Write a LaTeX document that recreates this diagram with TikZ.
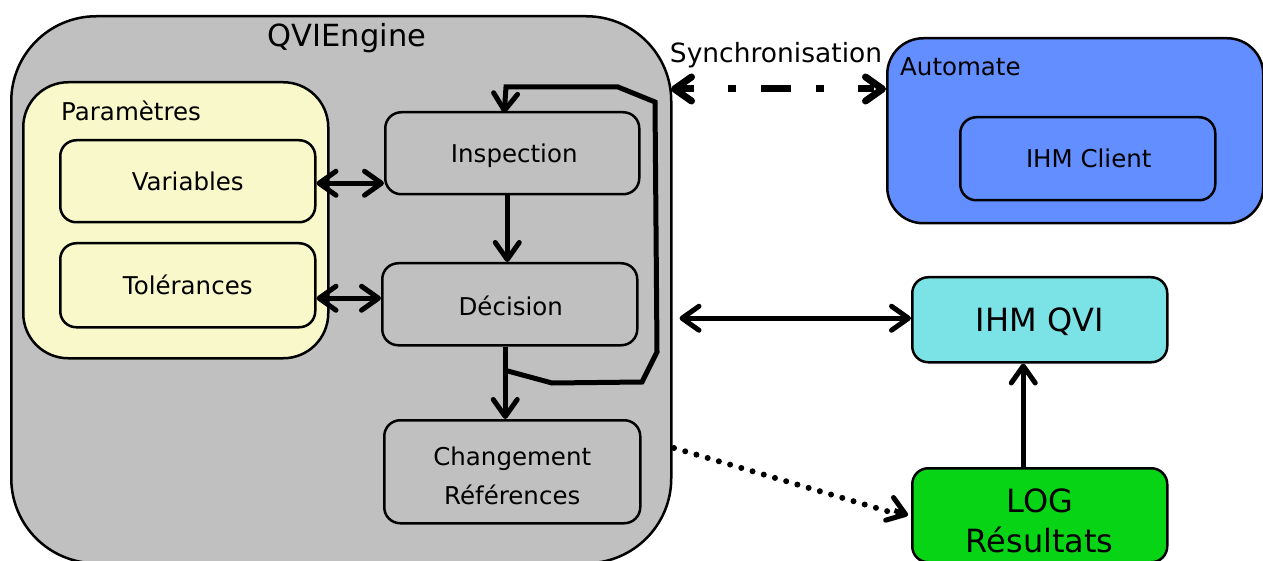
\documentclass[tikz,border=0pt]{standalone}
\usepackage{fontspec}
\setmainfont{DejaVu Sans}
\usetikzlibrary{arrows.meta,calc}

\definecolor{enggray}{HTML}{C0C0C0}
\definecolor{paramyellow}{HTML}{F8F8CA}
\definecolor{autoblue}{HTML}{628EFF}
\definecolor{ihmcyan}{HTML}{7BE2E6}
\definecolor{loggreen}{HTML}{06D414}

\begin{document}
\begin{tikzpicture}[x=1pt, y=-1pt,
  box/.style={draw=black, line width=2.5pt, anchor=north west, inner sep=0pt,
    rounded corners=16pt},
  lbl/.style={font=\fontsize{24.5}{39}\selectfont, align=center, inner sep=0pt},
  biglbl/.style={font=\fontsize{32}{40}\selectfont, align=center, inner sep=0pt},
  tip/.tip={Straight Barb[length=17pt, width=24pt, round]},
  arr/.style={line width=5pt, -tip},
  dbl/.style={line width=5pt, tip-tip},
  loopline/.style={line width=5pt, line join=miter, -tip},
  syncline/.style={line width=7pt, tip-tip,
    dash pattern=on 16pt off 34pt on 8pt off 25pt on 30pt off 25pt on 8pt off 34pt},
  dotline/.style={line width=6pt, line cap=round, dash pattern=on 0pt off 11.7pt},
]
\useasboundingbox (0,0) rectangle (1263,561);

% QVIEngine container
\node[box, fill=enggray, rounded corners=85pt,
  minimum width=660pt, minimum height=547pt] (engine) at (10,15) {};
\node[font=\fontsize{30.5}{36}\selectfont, inner sep=0pt] (enginetitle) at (347,38) {QVIEngine};

% Parameters group
\node[box, fill=paramyellow, rounded corners=45pt,
  minimum width=305pt, minimum height=276pt] (params) at (22,81) {};
\node[lbl, anchor=west] (paramstitle) at (61,111) {Paramètres};
\node[box, fill=paramyellow, minimum width=255pt, minimum height=82pt] (var) at (59,139) {};
\node[lbl] at (var.center) {Variables};
\node[box, fill=paramyellow, minimum width=255pt, minimum height=84pt] (tol) at (59,242) {};
\node[lbl] at (tol.center) {Tolérances};

% Processing steps
\node[box, fill=enggray, minimum width=254pt, minimum height=82pt] (insp) at (384,111) {};
\node[lbl] at ([xshift=2pt, yshift=-2pt]insp.center) {Inspection};
\node[box, fill=enggray, minimum width=255pt, minimum height=82pt] (dec) at (381,262) {};
\node[lbl] at ([xshift=1pt, yshift=-2pt]dec.center) {Décision};
\node[box, fill=enggray, minimum width=256pt, minimum height=103pt] (chg) at (383,419) {};
\node[lbl] at ([yshift=-4pt]chg.center) {Changement\\Références};

% Automate
\node[box, fill=autoblue, rounded corners=36pt,
  minimum width=376pt, minimum height=185pt] (automate) at (886,37) {};
\node[lbl, anchor=west] (autotitle) at (900,67) {Automate};
\node[box, fill=autoblue, minimum width=255pt, minimum height=83pt] (ihmclient) at (959,116) {};
\node[lbl] at ([xshift=1pt]ihmclient.center) {IHM Client};

% IHM QVI and LOG
\node[box, fill=ihmcyan, minimum width=255pt, minimum height=85pt] (ihm) at (911,276) {};
\node[biglbl] at ([yshift=-2pt]ihm.center) {IHM QVI};
\node[box, fill=loggreen, minimum width=255pt, minimum height=94pt] (log) at (911,467) {};
\node[biglbl] at ([yshift=-6pt]log.center) {LOG\\Résultats};

% Links between parameters and steps
\draw[dbl] ([yshift=-2pt]var.east) -- ([yshift=-2pt]var.east -| insp.west);
\draw[dbl] ([yshift=6pt]dec.west) -- ([yshift=6pt]dec.west -| tol.east);

% Step flow
\draw[arr] ([xshift=-5pt]insp.south) -- ([xshift=-5pt]insp.south |- dec.north);
\draw[arr] ([xshift=-4.5pt]dec.south) -- ([xshift=-4.5pt]dec.south |- chg.north);

% Feedback loop back to inspection
\coordinate (loopstart) at (504,370);
\draw[loopline] (loopstart) -- (552,383) -- (642,382) -- (657,352) -- (655,102)
  -- (618,87) -- (506,87) -- ([xshift=-8pt, yshift=-2pt]insp.north);

% External links
\coordinate (syncstart) at (671,89);
\draw[syncline] (syncstart) -- (syncstart -| automate.west);
\node[font=\fontsize{26.5}{30}\selectfont, inner sep=0pt] (synclabel) at (776,55) {Synchronisation};

\draw[dbl] ([yshift=1.5pt]ihm.west) -- ([xshift=7pt, yshift=1.5pt]ihm.west -| engine.east);
\draw[arr] ([xshift=-16.5pt]log.north) -- ([xshift=-16.5pt]ihm.south);

\coordinate (dotstart) at (674,448);
\draw[dotline] (dotstart) -- ([xshift=-10pt]log.west);
\draw[line width=5pt, -tip] ($(dotstart)!0.93!(log.west)$) -- ([xshift=-3pt]log.west);
\end{tikzpicture}
\end{document}
